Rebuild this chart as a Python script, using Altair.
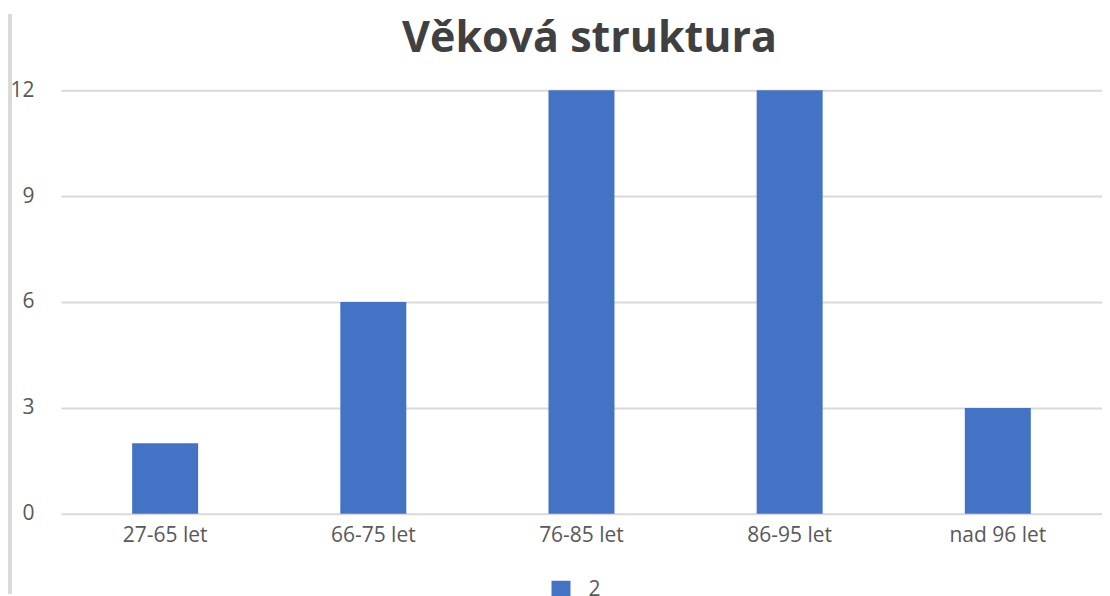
import altair as alt
import pandas as pd

categories = ["27-65 let", "66-75 let", "76-85 let", "86-95 let", "nad 96 let"]
values = [2, 6, 12, 12, 3]
series_name = ["2"] * 5

df = pd.DataFrame({"kat": categories, "pocet": values, "serie": series_name})

W = 1042
H = 424

bars = alt.Chart(df).mark_bar(color="#4472C4").encode(
    x=alt.X("kat:N", sort=categories, title=None,
            scale=alt.Scale(paddingInner=0.683, paddingOuter=0.342),
            axis=alt.Axis(labelAngle=0, domain=False, ticks=False, labelPadding=11,
                          labelFontSize=21, labelColor="#595959", labelFont="Open Sans")),
    y=alt.Y("pocet:Q", title=None,
            scale=alt.Scale(domain=[0, 12]),
            axis=alt.Axis(values=[0, 3, 6, 9, 12], domain=False, ticks=False, labelPadding=27,
                          labelFontSize=21, labelColor="#595959", labelFont="Open Sans",
                          gridColor="#d9d9d9", gridWidth=2)),
    color=alt.Color("serie:N", scale=alt.Scale(range=["#4472C4"]),
                    legend=alt.Legend(title=None, orient="none", legendX=490, legendY=490,
                                      symbolType="square",
                                      symbolSize=361, symbolStrokeWidth=0, labelFontSize=21,
                                      labelColor="#595959", labelFont="Open Sans", labelOffset=17)),
)

border = alt.Chart(df).mark_rule(color="#d9d9d9", strokeWidth=3).encode(
    x=alt.value(-51), y=alt.value(-76), y2=alt.value(H + 80)
)

chart = alt.layer(border, bars).properties(
    width=W, height=H, padding={"top": 4, "left": 0, "right": 0, "bottom": 0},
    title=alt.TitleParams("Věková struktura", fontSize=43, font="Open Sans", fontWeight="bold",
                          color="#404040", anchor="middle", offset=-48, dx=8),
).configure_view(stroke=None)

chart.save("out.html", embed_options={"renderer": "svg", "actions": False})
